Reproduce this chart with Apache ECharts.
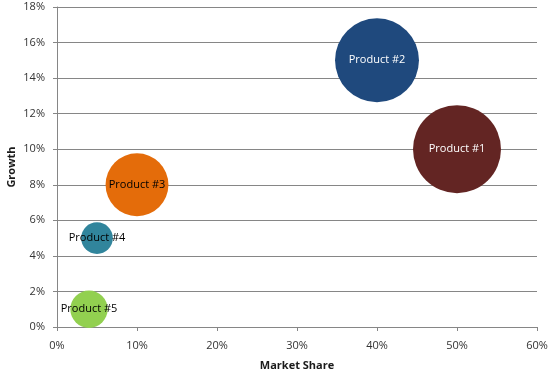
<!DOCTYPE html>
<html>
<head>
<meta charset="utf-8">
<script src="https://cdn.jsdelivr.net/npm/echarts@6/dist/echarts.min.js"></script>
<style>
	html, body { margin: 0; padding: 0; background: #fff; }
	#bubbleChart { width: 556px; height: 376px; }
</style>
</head>
<body>
<div id="bubbleChart"></div>
<script>
// chart data
var productNames = ['Product #1', 'Product #2', 'Product #3', 'Product #4', 'Product #5']
var marketShare = [50, 40, 10, 5, 4]
var growthRate = [10, 15, 8, 5, 1]
var bubbleSize = [100, 91, 51, 13, 18]

var xTicks = [0, 10, 20, 30, 40, 50, 60]
var yTicks = [0, 2, 4, 6, 8, 10, 12, 14, 16, 18]

var bubbleColors = ['#632523', '#1f497d', '#e46c0a', '#31859c', '#92d050']
var labelColors = ['#ffffff', '#ffffff', '#000000', '#000000', '#000000']

function drawBubbleChart(chartDom) {
	var myChart = echarts.init(chartDom)
	var seriesData = []
	for (var i = 0; i < productNames.length; i++) {
		seriesData.push({
			name: productNames[i],
			value: [marketShare[i], growthRate[i], bubbleSize[i]],
			itemStyle: { color: bubbleColors[i], opacity: 1 },
			label: { color: labelColors[i] },
		})
	}

	var option = {
		animation: false,
		textStyle: { fontFamily: 'Open Sans' },
		grid: { left: 57, right: 19, top: 7, bottom: 49, containLabel: false, outerBoundsMode: 'none' },
		xAxis: {
			type: 'value',
			min: xTicks[0],
			max: xTicks[xTicks.length - 1],
			interval: 10,
			name: 'Market Share',
			nameLocation: 'middle',
			nameGap: 33,
			nameMoveOverlap: false,
			nameTextStyle: { fontWeight: 'bold', fontSize: 11, color: '#1a1a1a' },
			axisLine: { lineStyle: { color: '#868686' } },
			axisTick: { show: true, length: 4, lineStyle: { color: '#868686' } },
			axisLabel: { formatter: '{value}%', fontSize: 11, color: '#333333', margin: 13 },
			splitLine: { show: false },
		},
		yAxis: {
			type: 'value',
			min: yTicks[0],
			max: yTicks[yTicks.length - 1],
			interval: 2,
			name: 'Growth',
			nameLocation: 'middle',
			nameGap: 40,
			nameMoveOverlap: false,
			nameTextStyle: { fontWeight: 'bold', fontSize: 11, color: '#1a1a1a' },
			axisLine: { show: true, lineStyle: { color: '#868686' } },
			axisTick: { show: true, length: 4, lineStyle: { color: '#868686' } },
			axisLabel: { formatter: '{value}%', fontSize: 11, color: '#333333', margin: 12 },
			splitLine: { show: true, lineStyle: { color: '#868686', width: 1 } },
		},
		series: [
			{
				type: 'scatter',
				data: seriesData,
				symbolSize: function (val) {
					return 88 * Math.sqrt(val[2] / 100)
				},
				label: {
					show: true,
					position: 'inside',
					formatter: '{b}',
					fontSize: 11,
				},
				emphasis: { disabled: true },
			},
		],
	}

	option && myChart.setOption(option)
}

drawBubbleChart(document.getElementById('bubbleChart'))
</script>
</body>
</html>
